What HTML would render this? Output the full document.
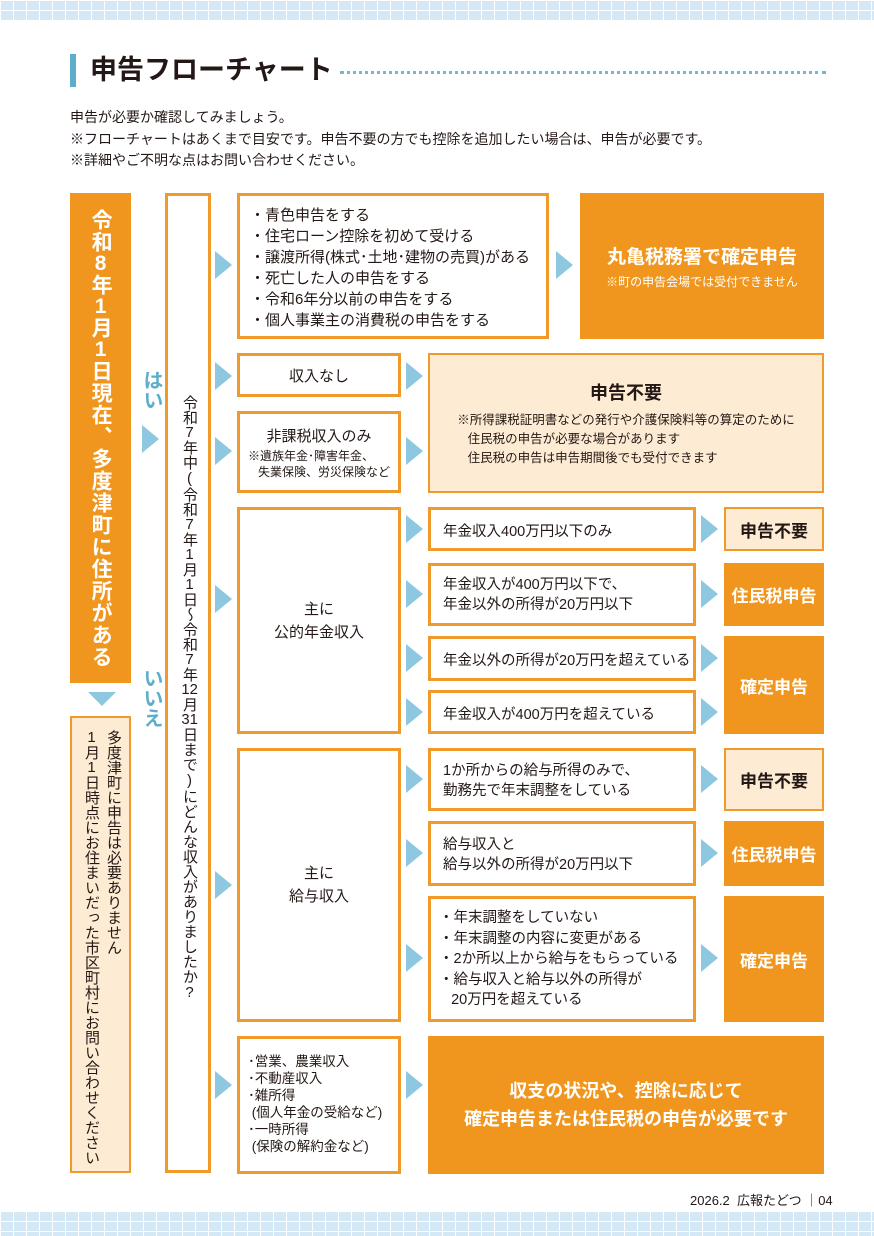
<!DOCTYPE html>
<html><head><meta charset="utf-8">
<style>
*{margin:0;padding:0;box-sizing:border-box}
body{width:874px;height:1236px;position:relative;background:#fff;font-family:"Liberation Sans","Noto Sans CJK JP",sans-serif;color:#231815;overflow:hidden}
.a{position:absolute}
.bx{position:absolute;border:3px solid #ef9a2a;background:#fff}
.or{position:absolute;background:#f0961e;color:#fff;font-weight:bold;display:flex;align-items:center;justify-content:center;text-align:center}
.lt{position:absolute;background:#fdebd3;border:2px solid #ef9a2a;display:flex;align-items:center;justify-content:center;font-weight:bold}
.tr{position:absolute;width:0;height:0;border-top:14px solid transparent;border-bottom:14px solid transparent;border-left:17px solid #8ec8e0}
.c{display:flex;align-items:center;justify-content:center;text-align:center}
.band{position:absolute;left:0;width:874px;background-color:#d4e9f5;background-image:linear-gradient(90deg,#fff 1px,transparent 1px),linear-gradient(#fff 1px,transparent 1px);background-size:13px 10px}
.v{writing-mode:vertical-rl;text-orientation:upright}
.tcy{text-combine-upright:all}
</style></head><body>
<div class="band" style="top:0;height:21px"></div>
<div class="band" style="top:1211px;height:25px"></div>

<div class="a" style="left:70px;top:54px;width:6px;height:33px;background:#5eaecb"></div>
<div class="a" style="left:90px;top:52px;font-size:27px;font-weight:bold;line-height:36px">申告フローチャート</div>
<div class="a" style="left:340px;top:71px;width:486px;border-top:3px dotted #6fb8d6"></div>

<div class="a" style="left:70px;top:107px;font-size:14px;line-height:21.5px">申告が必要か確認してみましょう。<br>※フローチャートはあくまで目安です。申告不要の方でも控除を追加したい場合は、申告が必要です。<br>※詳細やご不明な点はお問い合わせください。</div>

<!-- left column -->
<div class="or v" style="left:70px;top:193px;width:61px;height:490px;font-size:21px;line-height:1.2;letter-spacing:1px">令和<span class="tcy">8</span>年<span class="tcy">1</span>月<span class="tcy">1</span>日現在、多度津町に住所がある</div>
<div class="a" style="left:88px;top:692px;width:0;height:0;border-left:14px solid transparent;border-right:14px solid transparent;border-top:14px solid #8ec8e0"></div>
<div class="a" style="left:70px;top:716px;width:61px;height:457px;background:#fdebd3;border:2px solid #ef9a2a"></div>
<div class="a v" style="left:80px;top:730px;width:44px;height:440px;font-size:15px;line-height:22px;white-space:nowrap">多度津町に申告は必要ありません<br><span class="tcy">1</span>月<span class="tcy">1</span>日時点にお住まいだった市区町村にお問い合わせください</div>

<div class="a v" style="left:137px;top:370px;font-size:20px;font-weight:bold;color:#5eaecb">はい</div>
<div class="tr" style="left:142px;top:425px"></div>
<div class="a v" style="left:137px;top:668px;font-size:20px;font-weight:bold;color:#5eaecb">いいえ</div>

<div class="bx" style="left:165px;top:193px;width:46px;height:980px"></div>
<div class="a v" style="left:178px;top:395px;width:22px;height:600px;font-size:15px;line-height:22px;white-space:nowrap">令和<span class="tcy">7</span>年中(令和<span class="tcy">7</span>年<span class="tcy">1</span>月<span class="tcy">1</span>日～令和<span class="tcy">7</span>年<span class="tcy">12</span>月<span class="tcy">31</span>日まで)にどんな収入がありましたか?</div>

<!-- arrows column -->
<div class="tr" style="left:215px;top:251px"></div>
<div class="tr" style="left:215px;top:362px"></div>
<div class="tr" style="left:215px;top:437px"></div>
<div class="tr" style="left:215px;top:585px"></div>
<div class="tr" style="left:215px;top:871px"></div>
<div class="tr" style="left:215px;top:1071px"></div>

<!-- row 1 -->
<div class="bx" style="left:237px;top:193px;width:312px;height:146px;font-size:15px;line-height:21px;padding:9px 0 0 10px">・青色申告をする<br>・住宅ローン控除を初めて受ける<br>・譲渡所得(株式･土地･建物の売買)がある<br>・死亡した人の申告をする<br>・令和6年分以前の申告をする<br>・個人事業主の消費税の申告をする</div>
<div class="tr" style="left:556px;top:251px"></div>
<div class="or" style="left:580px;top:193px;width:244px;height:146px;flex-direction:column"><div style="font-size:19px">丸亀税務署で確定申告</div><div style="font-size:12px;font-weight:normal;margin-top:4px">※町の申告会場では受付できません</div></div>

<!-- row 2 -->
<div class="bx c" style="left:237px;top:353px;width:164px;height:44px;font-size:15px">収入なし</div>
<div class="bx c" style="left:237px;top:411px;width:164px;height:82px;font-size:15px;flex-direction:column"><div>非課税収入のみ</div><div style="font-size:12px;line-height:16px;text-align:left;margin-top:2px">※遺族年金･障害年金、<br>&nbsp;&nbsp;&nbsp;失業保険、労災保険など</div></div>
<div class="tr" style="left:406px;top:362px"></div>
<div class="tr" style="left:406px;top:437px"></div>
<div class="lt" style="left:428px;top:353px;width:396px;height:140px;flex-direction:column;font-weight:normal"><div style="font-size:18px;font-weight:bold">申告不要</div><div style="font-size:12.5px;line-height:19px;margin-top:6px;text-align:left">※所得課税証明書などの発行や介護保険料等の算定のために<br>&nbsp;&nbsp;&nbsp;住民税の申告が必要な場合があります<br>&nbsp;&nbsp;&nbsp;住民税の申告は申告期間後でも受付できます</div></div>

<!-- pension -->
<div class="bx c" style="left:237px;top:507px;width:164px;height:227px;font-size:15px;line-height:23px">主に<br>公的年金収入</div>
<div class="tr" style="left:406px;top:515px"></div>
<div class="tr" style="left:406px;top:580px"></div>
<div class="tr" style="left:406px;top:644px"></div>
<div class="tr" style="left:406px;top:698px"></div>
<div class="bx" style="left:428px;top:507px;width:268px;height:44px;font-size:14.5px;padding:10px 0 0 12px">年金収入400万円以下のみ</div>
<div class="bx" style="left:428px;top:563px;width:268px;height:63px;font-size:14.5px;line-height:20px;padding:9px 0 0 12px">年金収入が400万円以下で、<br>年金以外の所得が20万円以下</div>
<div class="bx" style="left:428px;top:636px;width:268px;height:45px;font-size:14.5px;padding:10px 0 0 12px">年金以外の所得が20万円を超えている</div>
<div class="bx" style="left:428px;top:690px;width:268px;height:44px;font-size:14.5px;padding:10px 0 0 12px">年金収入が400万円を超えている</div>
<div class="tr" style="left:701px;top:515px"></div>
<div class="tr" style="left:701px;top:580px"></div>
<div class="tr" style="left:701px;top:644px"></div>
<div class="tr" style="left:701px;top:698px"></div>
<div class="lt" style="left:724px;top:507px;width:100px;height:44px;font-size:17px">申告不要</div>
<div class="or" style="left:724px;top:563px;width:100px;height:63px;font-size:17px">住民税申告</div>
<div class="or" style="left:724px;top:636px;width:100px;height:98px;font-size:17px">確定申告</div>

<!-- salary -->
<div class="bx c" style="left:237px;top:748px;width:164px;height:274px;font-size:15px;line-height:23px">主に<br>給与収入</div>
<div class="tr" style="left:406px;top:765px"></div>
<div class="tr" style="left:406px;top:839px"></div>
<div class="tr" style="left:406px;top:944px"></div>
<div class="bx" style="left:428px;top:748px;width:268px;height:63px;font-size:14.5px;line-height:20px;padding:10px 0 0 12px">1か所からの給与所得のみで、<br>勤務先で年末調整をしている</div>
<div class="bx" style="left:428px;top:821px;width:268px;height:65px;font-size:14.5px;line-height:20px;padding:11px 0 0 12px">給与収入と<br>給与以外の所得が20万円以下</div>
<div class="bx" style="left:428px;top:896px;width:268px;height:126px;font-size:14.5px;line-height:20.5px;padding:9px 0 0 8px">・年末調整をしていない<br>・年末調整の内容に変更がある<br>・2か所以上から給与をもらっている<br>・給与収入と給与以外の所得が<br>&nbsp;&nbsp;&nbsp;20万円を超えている</div>
<div class="tr" style="left:701px;top:765px"></div>
<div class="tr" style="left:701px;top:839px"></div>
<div class="tr" style="left:701px;top:944px"></div>
<div class="lt" style="left:724px;top:748px;width:100px;height:63px;font-size:17px">申告不要</div>
<div class="or" style="left:724px;top:821px;width:100px;height:65px;font-size:17px">住民税申告</div>
<div class="or" style="left:724px;top:896px;width:100px;height:126px;font-size:17px">確定申告</div>

<!-- other -->
<div class="bx" style="left:237px;top:1036px;width:164px;height:138px;font-size:13.5px;line-height:17px;padding:14px 0 0 8px">･営業、農業収入<br>･不動産収入<br>･雑所得<br>&nbsp;(個人年金の受給など)<br>･一時所得<br>&nbsp;(保険の解約金など)</div>
<div class="tr" style="left:406px;top:1071px"></div>
<div class="or" style="left:428px;top:1036px;width:396px;height:138px;font-size:18px;line-height:28px">収支の状況や、控除に応じて<br>確定申告または住民税の申告が必要です</div>

<div class="a" style="left:690px;top:1190px;font-size:13px">2026.2&nbsp;&nbsp;広報たどつ&nbsp;｜04</div>
</body></html>
